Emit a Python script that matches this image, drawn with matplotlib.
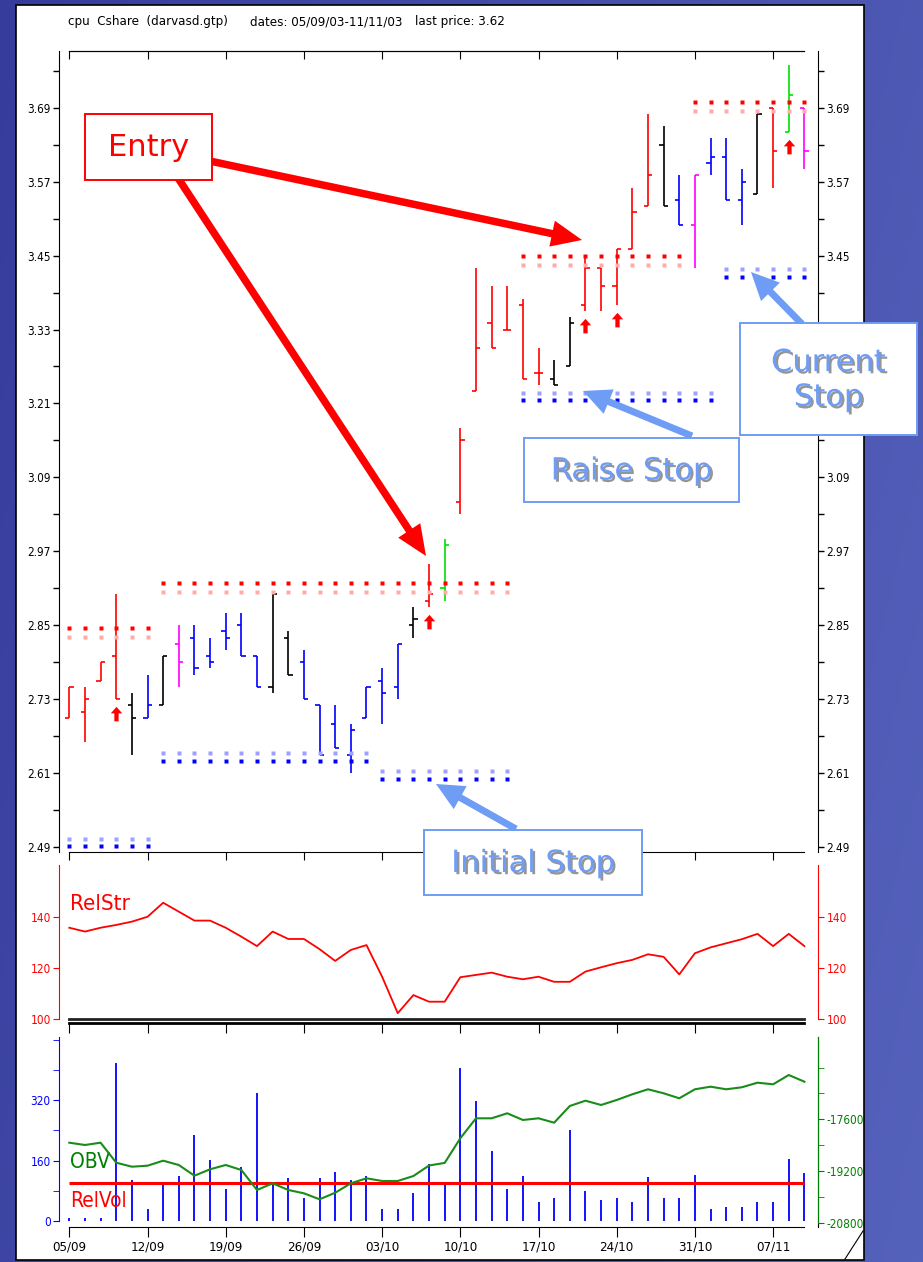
import matplotlib
matplotlib.use("Agg")
import matplotlib.pyplot as plt
import matplotlib.patheffects as pe
import numpy as np
from matplotlib.patches import Rectangle, FancyArrowPatch
from matplotlib.path import Path

plt.rcParams["axes.unicode_minus"] = False

W, H = 923, 1262
NARROW = dict(family=["Liberation Sans Narrow", "DejaVu Sans"], stretch="condensed")

# ---- datos (cpu, 05/09/03 - 11/11/03) ----
week_pos = [0, 5, 10, 15, 20, 25, 30, 35, 40, 45]
week_labels = ["05/09", "12/09", "19/09", "26/09", "03/10",
               "10/10", "17/10", "24/10", "31/10", "07/11"]

opens = [2.70, 2.71, 2.76, 2.80, 2.72, 2.70, 2.72, 2.82, 2.83, 2.80, 2.84, 2.85,
         2.80, 2.75, 2.83, 2.79, 2.72, 2.69, 2.64, 2.70, 2.76, 2.75, 2.85, 2.89,
         2.91, 3.05, 3.23, 3.34, 3.33, 3.37, 3.26, 3.25, 3.27, 3.37, 3.43, 3.40,
         3.46, 3.53, 3.63, 3.54, 3.50, 3.60, 3.61, 3.54, 3.55, 3.69, 3.65, 3.69]
highs = [2.75, 2.75, 2.79, 2.90, 2.74, 2.77, 2.80, 2.85, 2.85, 2.83, 2.87, 2.87,
         2.80, 2.90, 2.84, 2.81, 2.72, 2.72, 2.69, 2.75, 2.78, 2.82, 2.88, 2.95,
         2.99, 3.17, 3.43, 3.40, 3.40, 3.38, 3.30, 3.28, 3.35, 3.45, 3.43, 3.46,
         3.56, 3.68, 3.66, 3.58, 3.58, 3.64, 3.64, 3.59, 3.68, 3.69, 3.76, 3.69]
lows = [2.70, 2.66, 2.76, 2.73, 2.64, 2.70, 2.72, 2.75, 2.77, 2.78, 2.81, 2.80,
        2.75, 2.74, 2.77, 2.73, 2.64, 2.65, 2.61, 2.70, 2.69, 2.73, 2.83, 2.88,
        2.89, 3.03, 3.23, 3.30, 3.33, 3.25, 3.24, 3.24, 3.27, 3.36, 3.36, 3.37,
        3.46, 3.53, 3.53, 3.50, 3.43, 3.58, 3.54, 3.50, 3.55, 3.56, 3.65, 3.59]
closes = [2.75, 2.73, 2.79, 2.73, 2.70, 2.72, 2.80, 2.79, 2.78, 2.79, 2.83, 2.80,
          2.75, 2.90, 2.77, 2.73, 2.64, 2.65, 2.68, 2.75, 2.74, 2.82, 2.86, 2.90,
          2.98, 3.15, 3.30, 3.30, 3.33, 3.25, 3.26, 3.24, 3.34, 3.43, 3.40, 3.46,
          3.52, 3.58, 3.53, 3.50, 3.58, 3.61, 3.54, 3.57, 3.68, 3.62, 3.71, 3.62]
bar_colors = list("rrrrkbkmbbbbbkkbbbbbbbkrgrrrrrrkkrrrrrkbmbbbkrgm")
COL = {"r": "#ff0000", "b": "#0000ff", "k": "#000000", "m": "#ff00ff", "g": "#00e000"}

# cajas Darvas: (desde, hasta, nivel)
box_tops = [(0, 5, 2.845), (6, 28, 2.918), (29, 39, 3.449), (40, 47, 3.699)]
box_bottoms = [(0, 5, 2.491), (6, 19, 2.630), (20, 28, 2.601), (29, 41, 3.215), (42, 47, 3.416)]
signal_bars = [3, 23, 33, 35, 46]

price_ticks = [2.49, 2.61, 2.73, 2.85, 2.97, 3.09, 3.21, 3.33, 3.45, 3.57, 3.69]
price_minor = [2.55, 2.67, 2.79, 2.91, 3.03, 3.15, 3.27, 3.39, 3.51, 3.63, 3.75]

relstr = [135.9, 134.4, 135.9, 137.0, 138.3, 140.2, 145.7, 142.2, 138.7, 138.7, 135.9, 132.4,
          128.7, 134.4, 131.5, 131.5, 127.5, 122.9, 127.2, 129.1, 116.7, 102.4, 109.5, 106.9,
          106.9, 116.5, 117.4, 118.3, 116.7, 115.7, 116.7, 114.7, 114.7, 118.7, 120.4, 122.0,
          123.3, 125.5, 124.5, 117.6, 125.9, 128.2, 129.8, 131.4, 133.5, 128.7, 133.5, 128.7]
relstr_ticks = [100, 120, 140]

volume = [7, 7, 7, 417, 108, 31, 98, 120, 227, 161, 85, 144,
          340, 98, 115, 60, 115, 130, 108, 120, 31, 31, 73, 150,
          98, 405, 317, 186, 85, 120, 49, 62, 241, 79, 56, 62,
          49, 116, 62, 62, 122, 32, 38, 38, 49, 49, 163, 126]
relvol_level = 100
vol_ticks = [0, 160, 320]
vol_minor = [80, 240, 400, 480]

obv = [-18324, -18395, -18324, -18943, -19067, -19036, -18881, -19014, -19345, -19147, -19014, -19169,
       -19788, -19581, -19788, -19890, -20076, -19872, -19581, -19426, -19509, -19509, -19355, -19030,
       -18950, -18188, -17569, -17569, -17414, -17621, -17569, -17705, -17188, -17024, -17157, -17002,
       -16826, -16671, -16795, -16950, -16671, -16591, -16671, -16609, -16467, -16517, -16229, -16436]
obv_ticks = [-20800, -19200, -17600]
obv_minor = [-20000, -18400, -16800, -16000]


def frac(x0, y0, x1, y1):
    return [x0 / W, 1 - y1 / H, (x1 - x0) / W, (y1 - y0) / H]


fig = plt.figure(figsize=(W / 100, H / 100), dpi=100)

# fondo azul y hoja blanca
bg = fig.add_axes([0, 0, 1, 1], zorder=-5)
gx = np.linspace(0, 1, 256)
gy = np.linspace(0, 1, 128)[:, None]
c1 = np.array([0x36, 0x3c, 0x9c]) / 255
c2 = np.array([0x55, 0x62, 0xbc]) / 255
t = (0.75 * gx[None, :] + 0.25 * gy)[..., None]
bg.imshow(c1 * (1 - t) + c2 * t, extent=(0, W, H, 0), aspect="auto")
bg.add_patch(Rectangle((16, 5), 848, 1255, facecolor="white", edgecolor="black", lw=1.2))
bg.plot([845, 863], [1259, 1231], color="black", lw=0.8)
bg.set_xlim(0, W)
bg.set_ylim(H, 0)
bg.axis("off")

x = np.arange(len(opens))
xlim = (-0.66, 47.87)
colors = [COL[c] for c in bar_colors]

# ---- panel de precios ----
ax = fig.add_axes(frac(59, 51, 818, 852))
ax.set_facecolor("none")
ax.vlines(x, lows, highs, colors=colors, lw=1.2)
ax.hlines(opens, x - 0.27, x, colors=colors, lw=1.2)
ax.hlines(closes, x, x + 0.27, colors=colors, lw=1.2)

for a, b, lvl in box_tops:
    xs = np.arange(a, b + 1)
    ax.plot(xs, [lvl] * len(xs), ls="none", marker="s", ms=2.4, mec="none", color="#ff0000")
    ax.plot(xs, [lvl - 0.014] * len(xs), ls="none", marker="s", ms=2.4, mec="none", color="#ffabab")
for a, b, lvl in box_bottoms:
    xs = np.arange(a, b + 1)
    ax.plot(xs, [lvl] * len(xs), ls="none", marker="s", ms=2.4, mec="none", color="#0000ff")
    ax.plot(xs, [lvl + 0.012] * len(xs), ls="none", marker="s", ms=2.4, mec="none", color="#a0a0ff")

flecha = Path([(0, 1), (0.75, 0.15), (0.28, 0.15), (0.28, -0.9), (-0.28, -0.9),
               (-0.28, 0.15), (-0.75, 0.15), (0, 1)], closed=True)
sig_x = [x[i] for i in signal_bars]
sig_y = [lows[i] - 0.024 for i in signal_bars]
ax.plot(sig_x, sig_y, ls="none", marker=flecha, ms=11, color="#ff0000", mec="none")

ax.set_xlim(*xlim)
ax.set_ylim(2.482, 3.782)
ax.set_yticks(price_ticks)
ax.set_yticks(price_minor, minor=True)
ax.yaxis.set_major_formatter(matplotlib.ticker.FormatStrFormatter("%.2f"))
ax.tick_params(axis="y", which="both", left=True, right=True, labelleft=True,
               labelright=True, direction="out", length=4, width=1, labelsize=8.5, pad=2)
for lab in ax.get_yticklabels(which="major"):
    lab.set(**NARROW)
ax.set_xticks(week_pos)
ax.tick_params(axis="x", direction="out", length=6, labelbottom=False)
ax.spines["top"].set_bounds(0, 47)
ax.spines["bottom"].set_bounds(0, 47)
sec = ax.secondary_xaxis("top")
sec.set_xticks(week_pos)
sec.tick_params(direction="in", length=6, labeltop=False)
sec.spines["top"].set_bounds(0, 47)

# ---- RelStr ----
axr = fig.add_axes(frac(59, 865, 818, 1023))
axr.set_facecolor("none")
axr.plot(x, relstr, color="#ff0000", lw=1.3)
axr.axhline(100, xmin=(0 - xlim[0]) / (xlim[1] - xlim[0]),
            xmax=(47 - xlim[0]) / (xlim[1] - xlim[0]), color="#222222", lw=2)
axr.set_xlim(*xlim)
axr.set_ylim(98.55, 160.5)
axr.set_yticks(relstr_ticks)
axr.tick_params(axis="y", left=True, right=True, labelleft=True, labelright=True,
                colors="#ff0000", length=4, labelsize=8.5, pad=2)
for lab in axr.get_yticklabels():
    lab.set(**NARROW)
axr.set_xticks(week_pos)
axr.tick_params(axis="x", direction="out", length=7, labelbottom=False)
axr.spines["top"].set_visible(False)
for s in ("left", "right"):
    axr.spines[s].set_color("#ff0000")
    axr.spines[s].set_bounds(100, 160.5)
axr.spines["bottom"].set_bounds(0, 47)
axr.spines["bottom"].set_linewidth(2)
axr.text(0.0145, 0.75, "RelStr", transform=axr.transAxes, color="#ff0000",
         fontsize=16, va="center", ha="left", **NARROW)

# ---- volumen / OBV ----
axv = fig.add_axes(frac(59, 1037, 818, 1227))
axv.set_facecolor("none")
axv.vlines(x, 0, volume, colors="#0000ff", lw=1.3)
axv.hlines(relvol_level, x[0], x[-1], colors="#ff0000", lw=2.2)
axv.set_xlim(*xlim)
axv.set_ylim(-16, 487)
axv.set_yticks(vol_ticks)
axv.set_yticks(vol_minor, minor=True)
axv.tick_params(axis="y", which="both", colors="#0000ff", length=4, labelsize=8.5, pad=2)
for lab in axv.get_yticklabels():
    lab.set(**NARROW)
axv.set_xticks(week_pos, week_labels)
axv.tick_params(axis="x", direction="out", length=7, labelsize=9.5, pad=3)
for lab in axv.get_xticklabels():
    lab.set(**NARROW)
axv.spines["top"].set_visible(False)
axv.spines["left"].set_color("#0000ff")
axv.spines["left"].set_bounds(0, 487)
axv.spines["bottom"].set_bounds(0, 47)
axv.text(0.0145, 0.34, "OBV", transform=axv.transAxes, color="#008000",
         fontsize=15, va="center", ha="left", **NARROW)
axv.text(0.0145, 0.135, "RelVol", transform=axv.transAxes, color="#ff0000",
         fontsize=15, va="center", ha="left", **NARROW)

axo = axv.twinx()
axo.plot(x, obv, color="#1a8c1a", lw=1.5)
axo.set_ylim(-20933, -15053)
axo.set_yticks(obv_ticks)
axo.set_yticks(obv_minor, minor=True)
axo.tick_params(axis="y", which="both", colors="#008000", length=4, labelsize=8.5, pad=2)
for lab in axo.get_yticklabels():
    lab.set(**NARROW)
for s in ("top", "left", "bottom"):
    axo.spines[s].set_visible(False)
axo.spines["right"].set_color("#008000")
axo.spines["right"].set_bounds(-20800, -15053)

# ---- cabecera y anotaciones ----
top = fig.add_axes([0, 0, 1, 1], zorder=10)
top.set_xlim(0, W)
top.set_ylim(H, 0)
top.axis("off")
top.patch.set_alpha(0)

top.text(68, 22, "cpu  Cshare  (darvasd.gtp)", fontsize=9.5, va="center", **NARROW)
top.text(250, 22, "dates: 05/09/03-11/11/03", fontsize=9.5, va="center", **NARROW)
top.text(415, 22, "last price: 3.62", fontsize=9.5, va="center", **NARROW)

RED = "#ff0000"
BLUE = "#6f9cf4"
shadow = [pe.SimplePatchShadow(offset=(1.6, -1.6), shadow_rgbFace="#8a8a8a", alpha=0.9), pe.Normal()]


def flecha_fig(p0, p1, color, tail, head_w, head_l):
    top.add_patch(FancyArrowPatch(
        p0, p1, arrowstyle=f"simple,head_width={head_w},head_length={head_l},tail_width={tail}",
        mutation_scale=20, color=color, shrinkA=0, shrinkB=0, lw=0))


def caja(x0, y0, x1, y1, texto, color, efectos=None):
    top.add_patch(Rectangle((x0, y0), x1 - x0, y1 - y0, facecolor="white",
                            edgecolor=color, lw=1.4))
    top.text((x0 + x1) / 2, (y0 + y1) / 2 + 1, texto, color=color, fontsize=22,
             ha="center", va="center", linespacing=1.25,
             family=["DejaVu Sans"], path_effects=efectos)


flecha_fig((205, 160), (582, 240), RED, 0.27, 0.95, 1.1)
flecha_fig((178, 178), (426, 556), RED, 0.27, 0.95, 1.1)
caja(85, 114, 212, 180, "Entry", RED)

flecha_fig((692, 436), (583, 391), BLUE, 0.25, 0.95, 1.0)
flecha_fig((802, 324), (751, 272), BLUE, 0.25, 0.95, 1.0)
flecha_fig((516, 829), (436, 784), BLUE, 0.25, 0.95, 1.0)
caja(524, 438, 739, 502, "Raise Stop", BLUE, shadow)
caja(740, 323, 917, 435, "Current\nStop", BLUE, shadow)
caja(424, 830, 642, 895, "Initial Stop", BLUE, shadow)

fig.savefig("out.png", dpi=100)
